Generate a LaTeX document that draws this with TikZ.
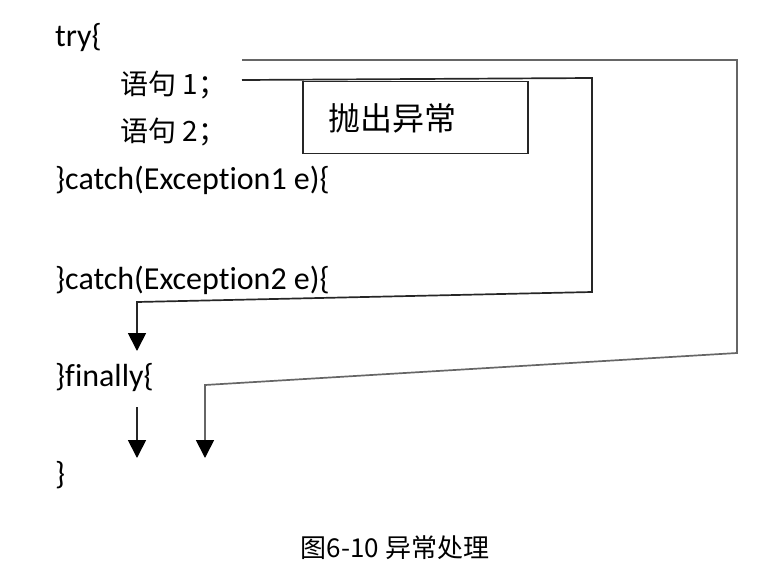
\documentclass[tikz,border=0pt]{standalone}
\usepackage{fontspec}
\setmainfont[Ligatures={NoCommon,NoRequired,NoContextual}]{Carlito}
\newfontfamily\cjk{Noto Sans CJK SC}
\usetikzlibrary{arrows.meta}
\begin{document}
\begin{tikzpicture}[x=1pt,y=-1pt,
  code/.style={anchor=west,inner sep=0pt,font=\fontsize{32}{36}\selectfont},
  cn/.style={anchor=west,inner sep=0pt,font=\cjk\fontsize{28}{32}\selectfont},
  flow/.style={line width=1.7pt,draw=black!85},
  flowarrow/.style={flow,-{Triangle[width=18pt,length=18pt,color=black,fill=black]}},
  throwbox/.style={draw=black!85,line width=1.5pt,minimum width=225pt,minimum height=72pt,inner sep=0pt}]
\useasboundingbox (0,0) rectangle (774,568);
\node[code] (try) at (55,38) {try\{};
\node[cn] (s1) at (120,85) {语句 1；};
\node[cn] (s2) at (120,132) {语句 2；};
\node[code] (c1) at (55,180) {\}catch(Exception1 e)\{};
\node[code] (c2) at (55,280) {\}catch(Exception2 e)\{};
\node[code] (fin) at (55,378) {\}finally\{};
\node[code] (end) at (55,475) {\}};
\node[throwbox] (tb) at (415.5,117.5) {};
\node[cn,font=\cjk\fontsize{32}{36}\selectfont] (tbt) at (328,118) {抛出异常};
\node[font=\cjk\fontsize{26}{30}\selectfont,inner sep=0pt] (cap) at (395,548) {图6-10 异常处理};
% outer path
\coordinate (o0) at (242,60);
\coordinate (o1) at (737,60);
\coordinate (o2) at (737,353);
\coordinate (o3) at (205,385);
\coordinate (o4) at (205,458);
\draw[flowarrow,draw=black!60] (o0) -- (o1) -- (o2) -- (o3) -- (o4);
% inner path
\coordinate (i0) at (242,80);
\coordinate (i1) at (592,78);
\coordinate (i2) at (592,292);
\coordinate (i3) at (137,302);
\coordinate (i4) at (137,351);
\draw[flowarrow] (i0) -- (i1) -- (i2) -- (i3) -- (i4);
% finally arrow
\coordinate (f0) at (137,407);
\coordinate (f1) at (137,458);
\draw[flowarrow] (f0) -- (f1);
\end{tikzpicture}
\end{document}
